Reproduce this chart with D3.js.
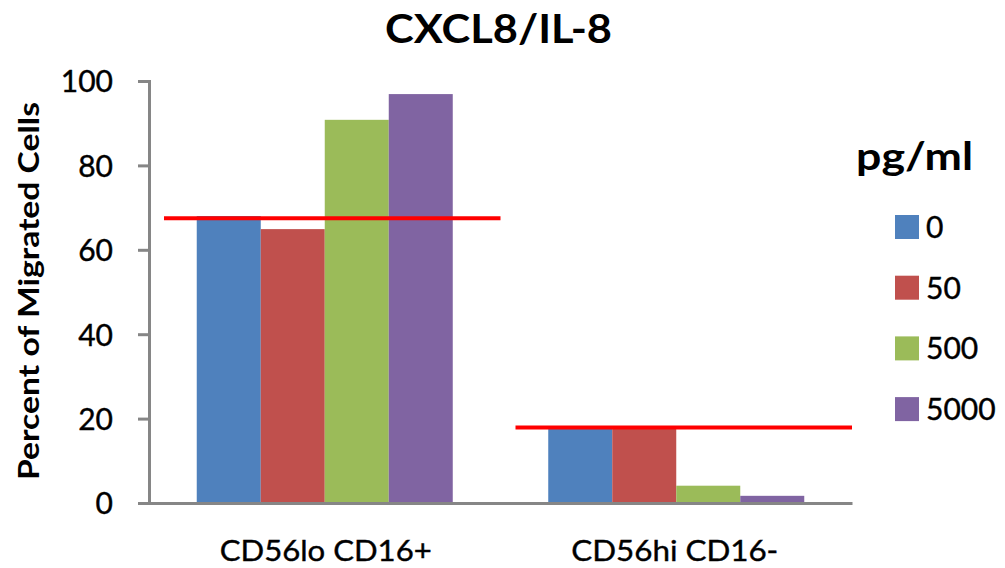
<!DOCTYPE html>
<html><head><meta charset="utf-8">
<script src="https://cdn.jsdelivr.net/npm/d3@7"></script>
<style>html,body{margin:0;padding:0;background:#fff;}svg{display:block;}</style>
</head><body>
<svg id="c" width="1005" height="568"></svg>
<script>
const categories = ["CD56lo CD16+", "CD56hi CD16-"];
const seriesNames = ["0", "50", "500", "5000"];
const s0 = [68.0, 17.8];
const s50 = [64.9, 17.8];
const s500 = [90.8, 4.1];
const s5000 = [96.9, 1.7];
const refLines = [67.5, 17.9];
const yTicks = [0, 20, 40, 60, 80, 100];
const colors = ["#4F81BD", "#C0504D", "#9BBB59", "#8064A2"];
const title = "CXCL8/IL-8";
const yTitle = "Percent of Migrated Cells";
const legendTitle = "pg/ml";

const seriesVals = [s0, s50, s500, s5000];
const svg = d3.select("#c");
const F = "Lato, 'Open Sans', sans-serif";

const x0 = d3.scaleBand().domain(categories).range([149, 852]).padding(0);
const x1 = d3.scaleBand().domain(seriesNames).range([0, x0.bandwidth()]).paddingInner(0).paddingOuter(0.746);
const y = d3.scaleLinear().domain([0, 100]).range([503, 81]);

// bars
categories.forEach((c, ci) => {
  seriesNames.forEach((s, si) => {
    const v = seriesVals[si][ci];
    svg.append("rect")
      .attr("x", x0(c) + x1(s))
      .attr("y", y(v))
      .attr("width", x1.bandwidth())
      .attr("height", y(0) - y(v))
      .attr("fill", colors[si]);
  });
});

// y axis
const yAxis = d3.axisLeft(y).tickValues(yTicks).tickSize(11).tickPadding(25);
const gy = svg.append("g").attr("transform", "translate(149,0)").call(yAxis);
gy.select(".domain").attr("stroke", "#868686").attr("stroke-width", 3);
gy.selectAll(".tick line").attr("stroke", "#868686").attr("stroke-width", 3);
gy.selectAll(".tick text").attr("font-family", F).attr("font-size", 30).attr("fill", "#000")
  .attr("dy", "0.36em").attr("stroke", "#000").attr("stroke-width", 0.4);

// x baseline
const xAxis = d3.axisBottom(x0).tickSize(0).tickFormat("");
const gx = svg.append("g").attr("transform", `translate(0,${y(0)})`).call(xAxis);
gx.select(".domain").attr("stroke", "#868686").attr("stroke-width", 3);

// x labels
const xLabelLen = [212, 207];
categories.forEach((c, ci) => {
  svg.append("text")
    .attr("x", x0(c) + x0.bandwidth() / 2 - 105)
    .attr("y", 561)
    .attr("font-family", F).attr("font-size", 29)
    .attr("stroke", "#000").attr("stroke-width", 0.4)
    .attr("text-anchor", "start")
    .attr("textLength", xLabelLen[ci]).attr("lengthAdjust", "spacingAndGlyphs")
    .text(c);
});

// reference lines
categories.forEach((c, ci) => {
  svg.append("line")
    .attr("x1", x0(c) + 15)
    .attr("x2", x0(c) + x0.bandwidth())
    .attr("y1", y(refLines[ci])).attr("y2", y(refLines[ci]))
    .attr("stroke", "#FF0000").attr("stroke-width", 4);
});

// title
svg.append("text").attr("x", 385).attr("y", 43)
  .attr("font-family", F).attr("font-weight", "bold")
  .attr("font-size", 40).attr("textLength", 227).attr("lengthAdjust", "spacingAndGlyphs").text(title);

// y title
svg.append("text").attr("transform", "translate(39,480) rotate(-90)")
  .attr("font-family", F).attr("font-weight", "bold")
  .attr("font-size", 29).attr("textLength", 378).attr("lengthAdjust", "spacingAndGlyphs").text(yTitle);

// legend
svg.append("text").attr("x", 856).attr("y", 170)
  .attr("font-family", F).attr("font-weight", "bold").attr("font-size", 39)
  .attr("textLength", 117).attr("lengthAdjust", "spacingAndGlyphs").text(legendTitle);
seriesNames.forEach((s, i) => {
  const ty = 215 + i * 60.7;
  svg.append("rect").attr("x", 895).attr("y", ty).attr("width", 24).attr("height", 24).attr("fill", colors[i]);
  svg.append("text").attr("x", 926).attr("y", ty + 23).attr("font-family", F).attr("font-size", 30)
    .attr("stroke", "#000").attr("stroke-width", 0.4).text(s);
});
</script>
</body></html>
